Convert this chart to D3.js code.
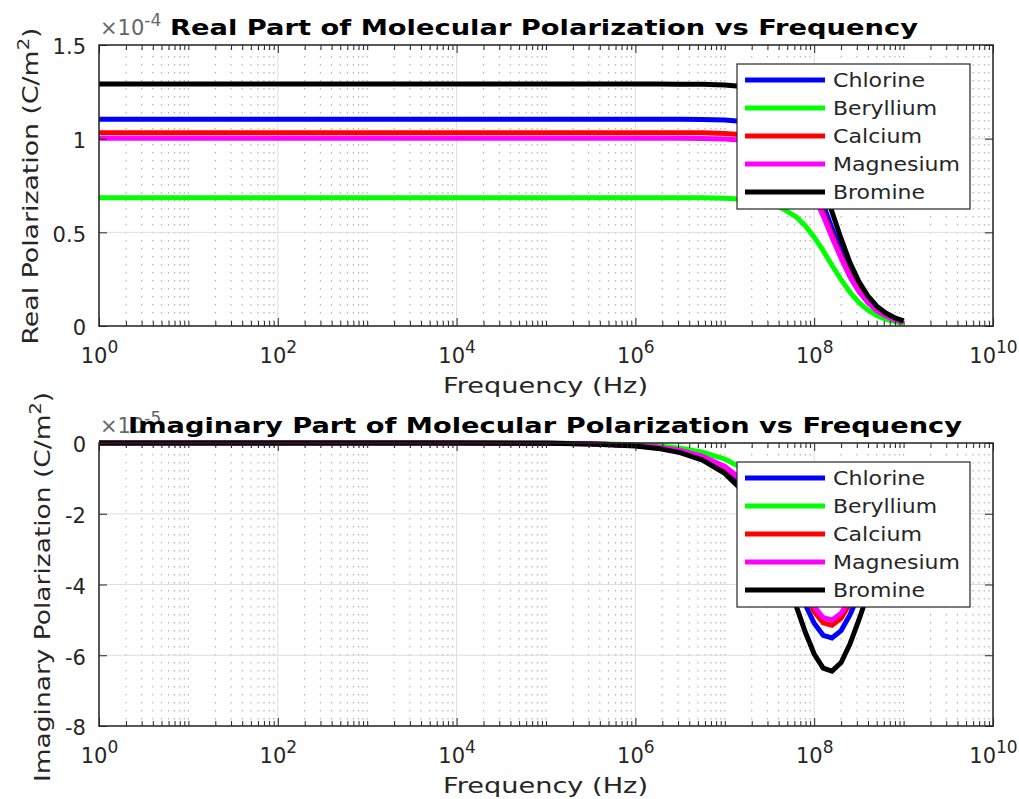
<!DOCTYPE html>
<html>
<head>
<meta charset="utf-8">
<script src="https://cdn.jsdelivr.net/npm/d3@7"></script>
<style>
  body { margin: 0; background: #fff; }
  text { font-family: "DejaVu Sans", sans-serif; fill: #262626; }
</style>
</head>
<body>
<svg id="chart" width="1019" height="799"></svg>
<script>
// frequencies (Hz) of the sampled points
var freq = [1, 10, 100, 1e3, 1e4, 1e5, 3.16e5, 1e6, 1.78e6, 3.16e6, 5.62e6, 1e7, 1.58e7, 2.51e7,
            3.98e7, 6.31e7, 7.94e7, 1e8, 1.26e8, 1.58e8, 2e8, 2.51e8, 3.16e8, 3.98e8, 5.01e8,
            6.31e8, 7.94e8, 1e9];

var elements = ["Chlorine", "Beryllium", "Calcium", "Magnesium", "Bromine"];

// real part, x 1e-4 C/m^2
var realChlorine  = [1.104, 1.104, 1.104, 1.104, 1.104, 1.104, 1.104, 1.104, 1.104, 1.104, 1.102, 1.099, 1.092, 1.074, 1.031, 0.938, 0.862, 0.764, 0.648, 0.522, 0.399, 0.290, 0.203, 0.137, 0.091, 0.059, 0.038, 0.024];
var realBeryllium = [0.685, 0.685, 0.685, 0.685, 0.685, 0.685, 0.685, 0.685, 0.685, 0.685, 0.684, 0.682, 0.677, 0.666, 0.640, 0.582, 0.535, 0.474, 0.402, 0.324, 0.247, 0.180, 0.126, 0.085, 0.056, 0.037, 0.024, 0.015];
var realCalcium   = [1.032, 1.032, 1.032, 1.032, 1.032, 1.032, 1.032, 1.032, 1.032, 1.032, 1.031, 1.027, 1.021, 1.004, 0.964, 0.877, 0.806, 0.714, 0.605, 0.488, 0.373, 0.271, 0.189, 0.128, 0.085, 0.055, 0.036, 0.023];
var realMagnesium = [1.002, 1.002, 1.002, 1.002, 1.002, 1.002, 1.002, 1.002, 1.002, 1.002, 1.001, 0.998, 0.991, 0.975, 0.936, 0.851, 0.782, 0.694, 0.588, 0.473, 0.362, 0.263, 0.184, 0.125, 0.082, 0.054, 0.034, 0.022];
var realBromine   = [1.292, 1.292, 1.292, 1.292, 1.292, 1.292, 1.292, 1.292, 1.292, 1.291, 1.290, 1.286, 1.278, 1.257, 1.207, 1.098, 1.009, 0.894, 0.758, 0.610, 0.466, 0.339, 0.237, 0.161, 0.106, 0.069, 0.044, 0.028];

// imaginary part, x 1e-5 C/m^2
var imagChlorine  = [0, 0, 0, 0, -0.001, -0.007, -0.023, -0.074, -0.131, -0.233, -0.414, -0.733, -1.154, -1.798, -2.738, -3.946, -4.566, -5.096, -5.437, -5.511, -5.303, -4.859, -4.275, -3.642, -3.032, -2.484, -2.013, -1.620];
var imagBeryllium = [0, 0, 0, 0, 0, -0.005, -0.014, -0.046, -0.081, -0.145, -0.257, -0.455, -0.716, -1.116, -1.699, -2.448, -2.833, -3.162, -3.374, -3.420, -3.290, -3.015, -2.652, -2.260, -1.881, -1.541, -1.249, -1.005];
var imagCalcium   = [0, 0, 0, 0, -0.001, -0.007, -0.022, -0.069, -0.122, -0.218, -0.387, -0.685, -1.078, -1.681, -2.559, -3.688, -4.268, -4.764, -5.083, -5.152, -4.957, -4.542, -3.996, -3.405, -2.834, -2.322, -1.881, -1.514];
var imagMagnesium = [0, 0, 0, 0, -0.001, -0.007, -0.021, -0.067, -0.119, -0.211, -0.376, -0.665, -1.047, -1.632, -2.485, -3.581, -4.144, -4.625, -4.935, -5.002, -4.813, -4.410, -3.880, -3.306, -2.751, -2.255, -1.827, -1.470];
var imagBromine   = [0, 0, 0, 0, -0.001, -0.009, -0.027, -0.086, -0.153, -0.273, -0.485, -0.858, -1.350, -2.105, -3.204, -4.618, -5.344, -5.964, -6.363, -6.450, -6.205, -5.686, -5.003, -4.262, -3.548, -2.907, -2.355, -1.895];

var xTicks = [1, 1e2, 1e4, 1e6, 1e8, 1e10];
var yTicksReal = [0, 0.5, 1, 1.5];
var yTicksImag = [-8, -6, -4, -2, 0];

var colors = ["#0000ff", "#00ff00", "#ff0000", "#ff00ff", "#000000"];
var legendWidths = [92, 104, 89, 127, 92];

var svg = d3.select("#chart");
var left = 99, right = 993;

var x = d3.scaleLog()
    .domain([1, 1e10])
    .range([left, right]);

// minor log positions 2..9 in every decade, plus the odd decades
var xMinor = [];
for (var e = 0; e < 10; e++) {
  for (var m = 2; m <= 10; m++) {
    if (m == 10 && (e + 1) % 2 == 0) continue;
    xMinor.push(m * Math.pow(10, e));
  }
}

function drawPanel(p) {
  var y = d3.scaleLinear().domain(p.yDomain).range([p.bottom, p.top]);
  var g = svg.append("g");

  // minor dotted grid (vertical only)
  g.selectAll(".mgx").data(xMinor).enter().append("line")
      .attr("x1", d => x(d)).attr("x2", d => x(d))
      .attr("y1", p.top + 3).attr("y2", p.bottom)
      .attr("stroke", "#b4b4b4").attr("stroke-width", 1.2)
      .attr("stroke-dasharray", "1.5,6.5");

  // major grid
  g.selectAll(".gx").data(xTicks).enter().append("line")
      .attr("x1", d => x(d)).attr("x2", d => x(d))
      .attr("y1", p.top).attr("y2", p.bottom)
      .attr("stroke", "#dedede");
  g.selectAll(".gy").data(p.yTicks).enter().append("line")
      .attr("x1", left).attr("x2", right)
      .attr("y1", d => y(d)).attr("y2", d => y(d))
      .attr("stroke", "#dedede");

  // curves
  var line = d3.line()
      .x((d, i) => x(freq[i]))
      .y(d => y(d));
  g.selectAll(".curve").data(p.series).enter().append("path")
      .attr("d", line)
      .attr("fill", "none")
      .attr("stroke", (d, i) => colors[i])
      .attr("stroke-width", 5);

  // box
  g.append("rect")
      .attr("x", left).attr("y", p.top)
      .attr("width", right - left).attr("height", p.bottom - p.top)
      .attr("fill", "none").attr("stroke", "#262626").attr("stroke-width", 1.5);

  // x axes (bottom with labels, top mirrored)
  var xb = g.append("g").attr("transform", "translate(0," + p.bottom + ")")
      .call(d3.axisBottom(x).tickValues(xTicks).tickSize(-8).tickFormat(""));
  xb.selectAll(".tick text")
      .attr("y", 37).attr("dy", 0).attr("font-size", 21)
      .each(function(d) {
        var t = d3.select(this);
        t.append("tspan").text("10");
        t.append("tspan").attr("dy", -10).attr("font-size", 17).text(Math.round(Math.log10(d)));
      });
  g.append("g").attr("transform", "translate(0," + p.bottom + ")")
      .call(d3.axisBottom(x).tickValues(xMinor).tickSize(-5).tickFormat(""));
  g.append("g").attr("transform", "translate(0," + p.top + ")")
      .call(d3.axisTop(x).tickValues(xTicks).tickSize(-8).tickFormat(""));
  g.append("g").attr("transform", "translate(0," + p.top + ")")
      .call(d3.axisTop(x).tickValues(xMinor).tickSize(-5).tickFormat(""));

  // y axes
  var yl = g.append("g").attr("transform", "translate(" + left + ",0)")
      .call(d3.axisLeft(y).tickValues(p.yTicks).tickSize(-8).tickPadding(13).tickFormat(d => String(d)));
  yl.selectAll(".tick text").attr("font-size", 21).attr("dy", "0.42em");
  g.append("g").attr("transform", "translate(" + right + ",0)")
      .call(d3.axisRight(y).tickValues(p.yTicks).tickSize(-8).tickFormat(""));

  g.selectAll(".domain").remove();
  g.selectAll(".tick line").attr("stroke", "#262626");

  // exponent label
  var ex = g.append("text").attr("x", 100).attr("y", p.top - 10).attr("font-size", 21).style("fill", "#666");
  ex.append("tspan").text("\u00d710");
  ex.append("tspan").attr("dy", -9).attr("font-size", 17).text(p.exponent);

  // title
  g.append("text")
      .attr("x", p.titleX0).attr("y", p.top - 10)
      .attr("textLength", p.titleW).attr("lengthAdjust", "spacingAndGlyphs")
      .attr("font-size", 22).attr("font-weight", "bold").style("fill", "#000")
      .text(p.title);

  // x label
  g.append("text")
      .attr("x", 443).attr("y", p.bottom + 67)
      .attr("textLength", 205).attr("lengthAdjust", "spacingAndGlyphs")
      .attr("font-size", 22)
      .text("Frequency (Hz)");

  // y label
  var yt = g.append("text")
      .attr("transform", "translate(" + p.ylabX + "," + p.ylabY + ") rotate(-90)")
      .attr("text-anchor", "middle")
      .attr("textLength", p.ylabW).attr("lengthAdjust", "spacingAndGlyphs")
      .attr("font-size", 22);
  yt.append("tspan").text(p.ylabel + " (C/m");
  yt.append("tspan").attr("dy", -9).attr("font-size", 16).text("2");
  yt.append("tspan").attr("dy", 9).text(")");

  // legend
  var lg = g.append("g").attr("transform", "translate(737," + p.legendTop + ")");
  lg.append("rect").attr("width", 233).attr("height", 145)
      .attr("fill", "#fff").attr("stroke", "#262626").attr("stroke-width", 1.2);
  var item = lg.selectAll(".item").data(elements).enter().append("g")
      .attr("transform", (d, i) => "translate(0," + (16 + i * 28) + ")");
  item.append("line").attr("x1", 8).attr("x2", 88)
      .attr("stroke", (d, i) => colors[i]).attr("stroke-width", 5);
  item.append("text").attr("x", 96).attr("y", 7).attr("font-size", 19)
      .attr("textLength", (d, i) => legendWidths[i]).attr("lengthAdjust", "spacingAndGlyphs")
      .text(d => d);
}

drawPanel({
  top: 45, bottom: 326, yDomain: [0, 1.5],
  yTicks: yTicksReal,
  series: [realChlorine, realBeryllium, realCalcium, realMagnesium, realBromine],
  exponent: "-4",
  title: "Real Part of Molecular Polarization vs Frequency", titleX0: 170, titleW: 748,
  ylabel: "Real Polarization", ylabX: 38, ylabY: 186, ylabW: 317,
  legendTop: 64
});

drawPanel({
  top: 443, bottom: 726, yDomain: [-8, 0],
  yTicks: yTicksImag,
  series: [imagChlorine, imagBeryllium, imagCalcium, imagMagnesium, imagBromine],
  exponent: "-5",
  title: "Imaginary Part of Molecular Polarization vs Frequency", titleX0: 128, titleW: 834,
  ylabel: "Imaginary Polarization", ylabX: 50, ylabY: 587, ylabW: 390,
  legendTop: 462
});
</script>
</body>
</html>
